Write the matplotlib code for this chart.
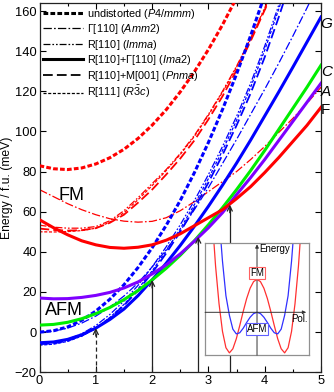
import numpy as np
import matplotlib
matplotlib.use("Agg")
import matplotlib.pyplot as plt
from matplotlib.lines import Line2D
import matplotlib.transforms as mtransforms

plt.rcParams['font.family'] = ['Liberation Sans', 'DejaVu Sans']
plt.rcParams['mathtext.fontset'] = 'custom'
plt.rcParams['mathtext.rm'] = 'Liberation Sans'
plt.rcParams['mathtext.it'] = 'Liberation Sans:italic'
plt.rcParams['lines.scale_dashes'] = False

# x grid of the main panel (step 0.25)
x = np.linspace(0, 5, 21)

# FM curves (red)
fm_p4mmm = [82.9, 81.4, 81.0, 81.8, 83.8, 86.9, 91.1, 96.5, 103.1, 110.8, 119.7, 129.7,
            140.8, 153.1, 166.6]
fm_amm2 = [71.0, 67.5, 64.0, 61.0, 58.5, 56.5, 55.3, 54.8, 55.2, 57.0, 60.5, 65.0,
           70.0, 75.0, 80.0, 86.0, 92.5, 99.5, 106.5, 114.0, 122.0]
fm_imma = [53.3, 52.3, 51.8, 51.8, 52.6, 55.5, 60.5, 67.0, 74.0, 81.0, 89.0, 98.0,
           108.5, 120.0, 132.5, 146.5, 161.5, 177.0]
fm_ima2 = [56.0, 52.0, 48.5, 45.5, 43.5, 42.2, 41.8, 42.3, 43.5, 45.8, 49.0, 53.0,
           57.0, 61.0, 66.5, 72.5, 79.5, 87.0, 95.0, 103.0, 112.0]
fm_pnma = [51.6, 50.9, 50.6, 50.8, 51.8, 54.5, 58.5, 64.5, 71.0, 78.5, 86.5, 95.5,
           106.0, 117.5, 130.5, 145.0, 160.5, 176.5]
fm_r3c = [50.0, 49.9, 50.1, 50.6, 51.8, 54.8, 59.5, 66.0, 73.0, 80.5, 88.5, 97.5,
          108.0, 119.5, 132.0, 146.0, 161.0, 177.0]

# AFM curves (blue)
afm_p4mmm = [0.0, 0.7, 2.6, 5.9, 10.5, 16.4, 23.6, 32.2, 42.0, 53.2, 65.6, 79.4,
             94.5, 110.9, 128.6, 147.7, 168.0]
afm_amm2 = [0.0, 0.5, 2.0, 4.5, 8.0, 12.5, 18.0, 24.5, 32.5, 41.0, 50.5, 61.0,
            72.0, 84.0, 96.0, 108.5, 121.0, 134.0, 147.5, 161.5, 176.0]
afm_imma = [-5.6, -5.1, -3.6, -0.8, 3.3, 8.8, 15.5, 23.3, 32.5, 42.5, 53.5, 65.5,
            78.5, 92.5, 107.5, 124.0, 142.5, 163.0, 185.0]
afm_ima2 = [-5.3, -4.9, -3.6, -1.3, 2.0, 6.3, 11.5, 18.2, 26.0, 34.3, 43.2, 52.7,
            62.7, 73.2, 84.2, 95.7, 107.7, 119.7, 132.0, 144.5, 157.0]
afm_pnma = [-6.0, -5.6, -4.3, -1.8, 2.0, 7.0, 13.3, 20.8, 29.5, 39.3, 50.0, 61.8,
            74.5, 88.3, 103.0, 119.0, 137.0, 157.0, 178.5]
afm_r3c = [-6.5, -6.0, -4.6, -2.0, 2.0, 7.3, 13.8, 21.5, 30.5, 40.5, 51.5, 63.5,
           76.5, 90.5, 105.5, 122.0, 140.5, 161.0, 183.0]

# other low-energy curves
curve_c = [3.5, 3.85, 4.9, 6.7, 9.2, 12.3, 16.2, 20.7, 26.0, 31.8, 38.3, 45.5,
           53.5, 62.0, 71.0, 80.5, 90.5, 101.0, 111.5, 122.0, 133.0]
curve_a = [17.0, 16.6, 16.7, 17.3, 18.3, 19.8, 22.0, 25.0, 29.0, 33.5, 39.0, 45.3,
           52.0, 59.5, 68.5, 77.0, 86.0, 95.5, 105.0, 114.5, 124.0]

end_labels = ['G', 'C', 'A', 'F']
end_label_y = [153.5, 129.6, 119.6, 110.9]

arrow_x = [1.0, 2.0, 2.82, 3.38]
arrow_tip = [2.0, 26.0, 47.5, 63.5]

# inset: schematic double wells
ins_x = [-1.625, -1.5, -1.375, -1.25, -1.125, -1.0, -0.875, -0.75, -0.625, -0.5, -0.375,
         -0.25, -0.125, 0.0, 0.125, 0.25, 0.375, 0.5, 0.625, 0.75, 0.875, 1.0, 1.125,
         1.25, 1.375, 1.5, 1.625]
ins_fm = [140.0, 90.0, 52.0, 24.0, 7.5, 2.3, 6.4, 16.5, 29.9, 44.1, 57.2, 67.6, 74.3,
          76.6, 74.3, 67.6, 57.2, 44.1, 29.9, 16.5, 6.4, 2.3, 7.5, 24.0, 52.0, 90.0, 140.0]
ins_afm = [220.0, 185.0, 140.0, 95.0, 60.0, 40.3, 26.3, 21.5, 22.6, 27.2, 33.0, 38.3,
           42.0, 43.3, 42.0, 38.3, 33.0, 27.2, 22.6, 21.5, 26.3, 40.3, 60.0, 95.0,
           140.0, 185.0, 220.0]

RED = '#ff0000'
BLUE = '#0000ff'
GREEN = '#00ee00'
PURPLE = '#7f00ff'

thick_dash = dict(lw=2.2, dashes=(3.4, 1.6))
dashdot = dict(lw=0.9, dashes=(6, 1.6, 1.2, 1.6))
dashdotdot = dict(lw=0.9, dashes=(5, 1.4, 1.2, 1.4, 1.2, 1.4))
solid = dict(lw=2.2)
longdash = dict(lw=1.3, dashes=(7, 3))
shortdash = dict(lw=0.9, dashes=(2.2, 1.2))

fig = plt.figure(figsize=(3.34, 3.92), dpi=100)
ax = fig.add_axes([0.1183, 0.0503, 0.8428, 0.9421])


def draw(vals, color, style, z=2):
    ax.plot(x[:len(vals)], vals, color=color, zorder=z, **style)


# red (FM)
draw(fm_r3c, RED, shortdash)
draw(fm_pnma, RED, longdash)
draw(fm_imma, RED, dashdotdot)
draw(fm_amm2, RED, dashdot)
draw(fm_p4mmm, RED, thick_dash, 3)

# blue (AFM)
draw(afm_r3c, BLUE, shortdash)
draw(afm_pnma, BLUE, longdash)
draw(afm_imma, BLUE, dashdotdot)
draw(afm_amm2, BLUE, dashdot)
draw(afm_p4mmm, BLUE, thick_dash, 3)

draw(afm_ima2, BLUE, solid, 4)
draw(curve_c, GREEN, solid, 4)
draw(curve_a, PURPLE, solid, 4)
draw(fm_ima2, RED, solid, 5)

# arrows from the bottom axis
for i, (xa, tip) in enumerate(zip(arrow_x, arrow_tip)):
    ls = (0, (3, 2)) if i == 0 else '-'
    ax.plot([xa, xa], [-20, tip - 1], color='#222222', lw=0.9, ls=ls, zorder=6)
    ax.annotate('', xy=(xa, tip), xytext=(xa, tip - 4),
                arrowprops=dict(arrowstyle='->', lw=0.9, color='#222222',
                                shrinkA=0, shrinkB=0, mutation_scale=9), zorder=6)

ax.text(0.57, 68.2, 'FM', fontsize=13, ha='center', va='center')
ax.text(0.44, 11.0, 'AFM', fontsize=13, ha='center', va='center')

trans = mtransforms.blended_transform_factory(ax.transAxes, ax.transData)
for lab, yv in zip(end_labels, end_label_y):
    ax.text(0.999, yv, lab, transform=trans, fontsize=11, va='center', ha='left',
            style='normal' if lab == 'F' else 'italic', clip_on=False)

ax.set_xlim(0, 5)
ax.set_ylim(-20, 164)
ax.set_xticks([0, 1, 2, 3, 4, 5])
ax.set_xticks([0.5, 1.5, 2.5, 3.5, 4.5], minor=True)
ax.set_yticks([-20, 0, 20, 40, 60, 80, 100, 120, 140, 160])
ax.tick_params(which='both', direction='in', top=True, right=True, labelsize=9.3,
               width=0.8, pad=2)
ax.tick_params(which='major', length=4.5)
ax.tick_params(which='minor', length=2.5)
for s in ax.spines.values():
    s.set_linewidth(0.9)
    s.set_color('#222222')
ax.set_ylabel('Energy / f.u. (meV)', fontsize=8.7, labelpad=1)

handles = [Line2D([], [], color='black', **thick_dash),
           Line2D([], [], color='black', **dashdot),
           Line2D([], [], color='black', **dashdotdot),
           Line2D([], [], color='black', **solid),
           Line2D([], [], color='black', **longdash),
           Line2D([], [], color='black', **shortdash)]
labels = ['undistorted ($\\mathit{P4/mmm}$)',
          'Γ[110] ($\\mathit{Amm}$2)',
          'R[110] ($\\mathit{Imma}$)',
          'R[110]+Γ[110] ($\\mathit{Ima}$2)',
          'R[110]+M[001] ($\\mathit{Pnma}$)',
          'R[111] ($\\mathit{R}\\bar{3}\\mathit{c}$)']
ax.legend(handles, labels, loc='upper left', bbox_to_anchor=(0.012, 0.99),
          frameon=False, fontsize=7.8, handlelength=3.7, handletextpad=0.35,
          labelspacing=0.14, borderpad=0, borderaxespad=0)

# inset
ins = fig.add_axes([0.614, 0.094, 0.311, 0.286])
ins.set_facecolor('white')
ins.plot(ins_x, ins_fm, color='#ff3030', lw=0.9)
ins.plot(ins_x, ins_afm, color='#3030ff', lw=0.9)
ins.set_xlim(-1.88, 1.88)
ins.set_ylim(0, 113.3)
ins.set_xticks([])
ins.set_yticks([])
for s in ins.spines.values():
    s.set_color('#909090')
    s.set_linewidth(0.9)
ins.annotate('', xy=(1.78, 43.3), xytext=(-1.88, 43.3),
             arrowprops=dict(arrowstyle='-|>', lw=0.7, color='#333333',
                             shrinkA=0, shrinkB=0, mutation_scale=5))
ins.annotate('', xy=(0, 112), xytext=(0, 0),
             arrowprops=dict(arrowstyle='-|>', lw=0.7, color='#333333',
                             shrinkA=0, shrinkB=0, mutation_scale=5))
ins.text(0.07, 107, 'Energy', fontsize=7, ha='left', va='center')
ins.text(1.54, 37, 'Pol.', fontsize=7, ha='center', va='center')
ins.text(0, 83.3, 'FM', fontsize=7, ha='center', va='center',
         bbox=dict(boxstyle='square,pad=0.1', fc='white', ec='#ff6060', lw=0.8))
ins.text(0, 26.6, 'AFM', fontsize=7, ha='center', va='center',
         bbox=dict(boxstyle='square,pad=0.1', fc='white', ec='#6060ff', lw=0.8))

fig.savefig('out.png', dpi=100)
